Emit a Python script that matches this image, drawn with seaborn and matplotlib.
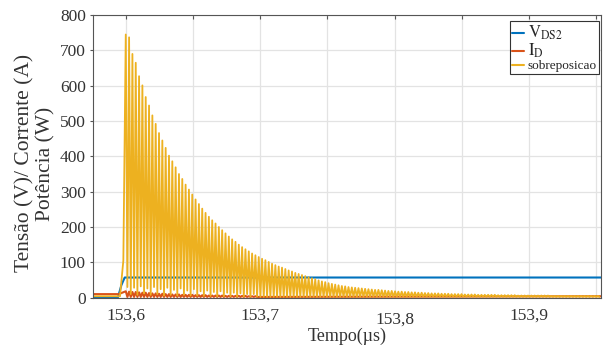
import matplotlib
import matplotlib.pyplot as plt
import matplotlib.transforms as mtransforms
from matplotlib.lines import Line2D
import pandas as pd
import seaborn as sns

matplotlib.use('Agg')

# ---- dados ----
# instante do primeiro pico e periodo da oscilacao (us)
t_pico0 = 153.5998
periodo = 0.002476

# picos da potencia (sobreposicao), um por ciclo
picos = [745, 737, 690, 665, 627, 601, 568, 544, 516, 492,
         466, 445, 424, 402, 386, 369, 350, 336, 320, 306,
         292, 278, 265, 252, 240, 229, 219, 210, 200, 191,
         182, 173, 165, 158, 150, 143, 137, 131, 125, 120,
         115, 110, 106, 101, 96, 92, 88, 85, 81, 77,
         74, 70, 67, 64, 61, 58, 55, 52, 49, 46,
         44, 41, 39, 37, 35, 33, 32, 30, 29, 28,
         27, 26, 25, 24, 23, 22, 22, 21, 20, 19,
         19, 18, 17, 17, 16, 16, 15, 15, 14, 14,
         13, 13, 12, 12, 12, 11, 11, 11, 10, 10,
         10, 10, 9, 9, 9, 9, 8, 8, 8, 8,
         8, 8, 7, 7, 7, 7, 7, 7, 6, 6,
         6, 6, 6, 6, 6, 6, 6, 6, 5, 5,
         5, 5, 5, 5, 5, 5, 5, 5, 5, 5,
         5, 5, 5]
# vales da potencia nos primeiros ciclos, depois nivel final
vales_inicio = [30, 10, 28, 8, 32, 12, 26, 8, 30, 10,
                24, 6, 28, 8, 22, 6, 26, 8, 20, 6,
                24, 6, 18, 5, 20, 5, 16, 4, 18, 4,
                14, 4, 14, 3, 12, 3, 10, 3, 10, 3]
vale_final = 2
# subida da potencia antes do primeiro pico
t_pot_ini = [153.575, 153.5955, 153.598]
pot_ini = [4, 4, 105]

# tensao V_DS2
t_vds = [153.575, 153.594, 153.5965, 153.599, 153.954]
vds = [1, 1, 35, 57, 57]

# corrente I_D
t_id_ini = [153.575, 153.5945]
id_ini = [10, 10]
id_picos = [18, 17, 16, 16, 15, 14, 14, 13, 12, 12,
            11, 11, 10, 10, 9, 9, 9, 8, 8, 8,
            8, 7, 7, 7, 7, 6, 6, 6, 6, 6,
            5, 5, 5, 5, 5, 5, 5, 4, 4, 4]
id_vale = 2
id_final = 4
t_fim = 153.954

# ticks
xticks = [153.6, 153.65, 153.7, 153.75, 153.8, 153.85, 153.9, 153.95]
xticklabels = ['153,6', '', '153,7', '', '153,8', '', '153,9', '']
yticks = [0, 100, 200, 300, 400, 500, 600, 700, 800]

cores = {'V_DS2': '#0072BD', 'I_D': '#D95319', 'sobreposicao': '#EDB120'}


def oscilacao(pk, vl, t0, T):
    t, v = [], []
    for i, p in enumerate(pk):
        t += [t0 + i * T, t0 + (i + 0.5) * T]
        v += [p, vl[i]]
    return t, v


vales = vales_inicio + [vale_final] * (len(picos) - len(vales_inicio))
t_osc, v_osc = oscilacao(picos, vales, t_pico0, periodo)
t_pot = t_pot_ini + t_osc
pot = pot_ini + v_osc

t_id_osc, v_id_osc = oscilacao(id_picos, [id_vale] * len(id_picos), t_pico0, periodo)
t_id = t_id_ini + t_id_osc + [t_fim]
i_d = id_ini + v_id_osc + [id_final]

df = pd.concat([
    pd.DataFrame({'Tempo': t_vds, 'Valor': vds, 'Serie': 'V_DS2'}),
    pd.DataFrame({'Tempo': t_id, 'Valor': i_d, 'Serie': 'I_D'}),
    pd.DataFrame({'Tempo': t_pot, 'Valor': pot, 'Serie': 'sobreposicao'}),
], ignore_index=True)

sns.set_style('whitegrid')
plt.rcParams['font.family'] = ['Liberation Serif', 'DejaVu Serif']
plt.rcParams['mathtext.fontset'] = 'stix'

fig = plt.figure(figsize=(6.07, 3.51), dpi=100)
ax = fig.add_axes([0.153, 0.152, 0.837, 0.805])

sns.lineplot(data=df, x='Tempo', y='Valor', hue='Serie',
             hue_order=['V_DS2', 'I_D', 'sobreposicao'], palette=cores,
             estimator=None, sort=False, linewidth=1.5, legend=False, ax=ax)
ax.lines[2].set_linewidth(1.3)

ax.set_xlim(153.5753, 153.9537)
ax.set_ylim(0, 800)
ax.set_xticks(xticks)
ax.set_xticklabels(xticklabels)
ax.set_yticks(yticks)

ax.grid(True, color='#e3e3e3', linewidth=0.9)
for s in ax.spines.values():
    s.set_color('#555555')
    s.set_linewidth(0.8)
ax.tick_params(axis='x', direction='in', length=3, pad=7, top=True,
               labelsize=12.5, colors='#555555', labelcolor='#333333')
ax.tick_params(axis='y', direction='out', length=2, pad=3, left=True,
               labelsize=12.5, colors='#555555', labelcolor='#333333')

# rotulo 153,8 um pouco mais baixo, como no original
lab = ax.get_xticklabels()[4]
lab.set_transform(lab.get_transform() +
                  mtransforms.ScaledTranslation(0, -3 / 72, fig.dpi_scale_trans))

ax.set_xlabel('Tempo(µs)', fontsize=13, color='#333333', labelpad=0)
ax.set_ylabel('Tensão (V)/ Corrente (A)\nPotência (W)', fontsize=15.5,
              color='#333333', linespacing=1.1)
ax.yaxis.set_label_coords(-0.074, 0.475)

handles = [Line2D([], [], color=cores[k], linewidth=1.5) for k in cores]
labels = [r'$\mathrm{V}_{\mathrm{DS2}}$', r'$\mathrm{I}_{\mathrm{D}}$', 'sobreposicao']
leg = ax.legend(handles, labels, loc='upper right', bbox_to_anchor=(0.996, 0.978),
                fontsize=9.5, handlelength=0.9, handletextpad=0.3,
                labelspacing=0.0, borderpad=0.15, borderaxespad=0,
                fancybox=False, framealpha=1)
leg.get_frame().set_edgecolor('#333333')
leg.get_frame().set_linewidth(0.8)
for t in leg.get_texts()[:2]:
    t.set_fontsize(12)

plt.savefig('out.png', dpi=100)
